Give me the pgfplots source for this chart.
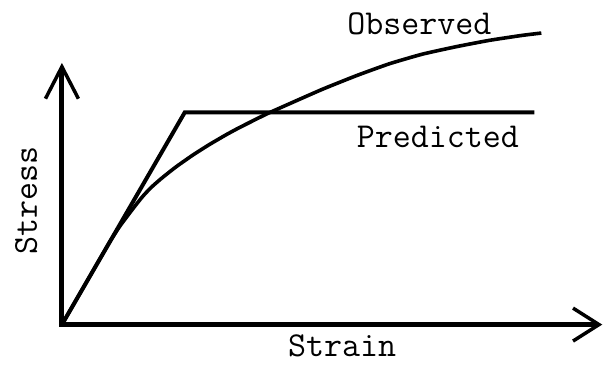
\documentclass[border=0pt]{standalone}
\usepackage{pgfplots}
\pgfplotsset{compat=1.18}
\usetikzlibrary{arrows.meta}
\newcommand{\labfont}{\ttfamily\fontsize{35}{40}\selectfont}
\begin{document}
\begin{tikzpicture}
\begin{axis}[
  x=1pt, y=1pt,
  xmin=-62, xmax=543, ymin=-47, ymax=325,
  hide axis, clip=false,
]
% invisible frame fixing the picture size
\addplot[draw=none] coordinates {(-62,-47) (543,325)};
% axes with open arrowheads
\addplot[line width=5pt, line join=miter, line cap=butt,
  arrows={Straight Barb[length=32pt,width=33pt,line width=3.5pt]-Straight Barb[length=26pt,width=33pt,line width=3.5pt]}]
  coordinates {(0,262) (0,0) (541,0)};
% predicted
\addplot[line width=4pt, line join=miter] coordinates {(0,0) (123,212.5) (473,212.5)};
% observed
\addplot[line width=3.6pt, smooth, tension=0.3] coordinates {
(0,0) (23,39.8) (48,83) (58,98.5) (65,108) (73,118.5) (81,128.5) (89,137)
(98,145) (106,151.5) (115,158.5) (131,169.7) (148,180.5) (165,190.4)
(178,197.4) (205,210.9) (228,221.2) (261,235.7) (295,249.3) (328,261.2)
(361,270.8) (395,278.3) (428,284.6) (461,289.6) (480,291.9)};
\node[anchor=base, font=\labfont] at (axis cs:358,290) {Observed};
\node[anchor=base, font=\labfont] at (axis cs:376.5,177) {Predicted};
\node[anchor=base, font=\labfont] at (axis cs:280.5,-32) {Strain};
\node[anchor=base, rotate=90, font=\labfont] at (axis cs:-25,124) {Stress};
\end{axis}
\end{tikzpicture}
\end{document}
